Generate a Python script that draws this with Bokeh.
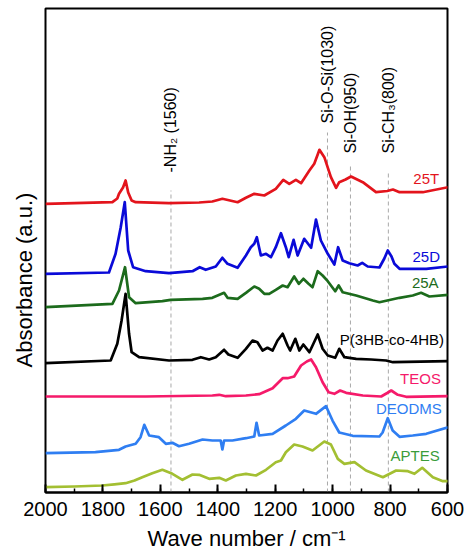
from math import pi
from bokeh.plotting import figure
from bokeh.models import Range1d, SingleIntervalTicker, Title
from bokeh.core.properties import value
from bokeh.embed import file_html
from bokeh.resources import INLINE

# ---------------- data (wavenumber in cm-1, stacked absorbance in a.u.) ----------------
wn_25T = [2000, 1767, 1750, 1744, 1730, 1721, 1712, 1700, 1686, 1570, 1465, 1419, 1384, 1331, 1302, 1273, 1238,
          1198, 1172, 1151, 1128, 1110, 1081, 1064, 1052, 1046, 1029, 1006, 988, 977, 955, 936, 895, 849,
          810, 790, 767, 686, 598]
abs_25T = [288.7, 290.3, 294, 298.7, 305, 312, 300, 292, 290.3, 289.3, 290, 291, 293.7, 290.3, 294.7, 298.7, 297,
           303.7, 312.7, 308.7, 312.7, 309.3, 322, 328.7, 338, 342.7, 335.3, 315.3, 304.7, 310.3, 313, 316, 310.3, 300.3,
           301.5, 303, 300.3, 300.3, 305.3]

wn_25D = [2000, 1779, 1756, 1738, 1724, 1712, 1695, 1651, 1570, 1488, 1463, 1442, 1407, 1384, 1366,
          1331, 1302, 1285, 1273, 1264, 1250, 1232, 1215, 1198, 1180, 1163, 1153, 1136, 1122, 1099,
          1075, 1058, 1041, 1017, 994, 981, 965, 942, 913, 897, 878, 837, 820, 808, 795, 785, 767, 674, 598]
abs_25D = [218.7, 220, 238.7, 265.3, 290.3, 242, 225.3, 221.3, 219.3, 221.3, 225.3, 222.7, 226, 234.7, 228.7,
           224.7, 237, 245.3, 248.7, 255.3, 237, 238.7, 235.3, 245.3, 259.3, 245.3, 235.3, 252.7, 237, 253.7,
           244.7, 273, 252, 238.7, 228, 245.3, 232, 229.3, 227, 229.7, 226, 225, 234, 242, 236, 228.7, 223.7, 223.7, 226]

wn_25A = [2000, 1767, 1744, 1723, 1709, 1686, 1593, 1564, 1453, 1419, 1378, 1366, 1331, 1302, 1273,
          1256, 1238, 1221, 1198, 1174, 1157, 1134, 1118, 1102, 1084, 1070, 1052, 1035, 1017, 991,
          979, 965, 918, 860, 837, 767, 721, 692, 663, 598]
abs_25A = [185.3, 188.7, 202, 225.3, 195.3, 189.3, 191.3, 192.7, 193.7, 194.7, 199.7, 194.7, 193.7, 199.7, 206,
           203.7, 198.7, 198.7, 202.7, 207, 205.3, 216, 208.7, 213.7, 208.7, 205.3, 221.3, 217, 211.3, 201.3,
           207, 200.3, 197, 192, 190.3, 194.7, 197, 199.7, 196, 197.7]

wn_P = [2000, 1773, 1750, 1735, 1721, 1709, 1700, 1674, 1570, 1488, 1459, 1430, 1407, 1378, 1363,
        1331, 1302, 1279, 1262, 1244, 1227, 1209, 1192, 1174, 1157, 1148, 1130, 1116, 1102, 1081,
        1052, 1035, 1017, 991, 977, 959, 918, 866, 814, 790, 598]
abs_P = [129.3, 132, 148.7, 172, 198.7, 158.7, 140.3, 135.3, 132, 132.7, 135.3, 133, 135.3, 142.7, 138,
         134.7, 143.7, 152, 150.3, 142, 144.7, 142, 152, 158.7, 147, 142, 153.7, 142, 148, 140.3,
         158, 143.7, 137, 134.7, 143.7, 135.3, 133.7, 133, 132, 130.3, 131.3]

wn_TEOS = [2000, 1651, 1419, 1395, 1372, 1302, 1256, 1209, 1174, 1157, 1134, 1110, 1090, 1075, 1058, 1035,
           1014, 994, 974, 953, 895, 831, 810, 796, 773, 744, 598]
abs_TEOS = [96, 96, 97, 97.7, 96.3, 97, 98.3, 104.3, 114.3, 114.3, 116, 127, 131, 133, 125.3, 110.3,
            100.3, 98.7, 102, 99.7, 97, 96, 99.5, 102, 97.7, 95.7, 96.3]

wn_DEODMS = [2000, 1826, 1744, 1721, 1686, 1669, 1656, 1639, 1605, 1581, 1558, 1535, 1500, 1453, 1419,
             1390, 1384, 1378, 1349, 1302, 1273, 1265, 1256, 1209, 1163, 1128, 1099, 1058, 1023, 1000,
             977, 930, 837, 826, 808, 791, 767, 721, 674, 598]
abs_DEODMS = [39.3, 40.3, 42.7, 46, 48.7, 55.3, 67.7, 57, 55.3, 48.7, 49.7, 46.3, 48.7, 53, 52,
              52, 43, 52, 52, 54.3, 56, 69.7, 57, 58.7, 67, 73.7, 82, 78.7, 86.3, 71.7,
              60, 56.7, 56, 60, 74.3, 62, 55.7, 57, 58.7, 65.3]

wn_APTES = [2000, 1900, 1802, 1760, 1721, 1690, 1663, 1628, 1593, 1558, 1523, 1488, 1465, 1430, 1395, 1372, 1337, 1302,
            1267, 1232, 1198, 1180, 1163, 1134, 1105, 1070, 1029, 1006, 982, 959, 924, 884, 860,
            825, 779, 738, 715, 688, 651, 616, 598]
abs_APTES = [5.3, 6, 7, 8.2, 9.3, 12, 15.3, 19.3, 22.7, 18.7, 12.7, 18, 17.7, 13.7, 14.7, 12, 17, 18.7,
             17, 22.7, 30.3, 32, 40.3, 48, 46, 42, 51, 48, 33.7, 28.7, 30.3, 22, 19.3,
             15.3, 22, 21.3, 18.7, 24.7, 15.3, 11.3, 11.3]

series_names = ["25T", "25D", "25A", "P(3HB-co-4HB)", "TEOS", "DEODMS", "APTES"]
series_wn = [wn_25T, wn_25D, wn_25A, wn_P, wn_TEOS, wn_DEODMS, wn_APTES]
series_abs = [abs_25T, abs_25D, abs_25A, abs_P, abs_TEOS, abs_DEODMS, abs_APTES]

band_labels = ["-NH\u2082 (1560)", "Si-O-Si(1030)", "Si-OH(950)", "Si-CH\u2083(800)"]
band_wn = [1563, 1018, 938, 806]

x_ticks_interval = 200

# ---------------- styling / positions ----------------
line_colors = ["#e3141c", "#0a0ad8", "#1c6b1c", "#000000", "#f51a6a", "#2f7ef2", "#a3bf32"]
label_colors = ["#e3141c", "#0a0ad8", "#1c6b1c", "#000000", "#f51a6a", "#2f7ef2", "#3a9c3a"]
label_x = [629, 626, 631, 612, 623, 620, 627]
label_y = [314, 236, 210.3, 152.7, 114.3, 84.3, 37]
band_text_bottom = [320, 369, 339, 339]
band_line_top = [302, 360, 327, 322]

FONT = "Liberation Sans"

p = figure(width=465, height=557, x_range=Range1d(2000, 600), y_range=Range1d(0, 484),
           output_backend="svg", toolbar_location=None,
           min_border_left=45, min_border_right=18, min_border_top=8, min_border_bottom=65)

p.grid.visible = False
p.outline_line_color = "black"
p.outline_line_width = 2
p.outline_line_alpha = 1
p.background_fill_color = "white"
p.border_fill_color = "white"

xa = p.xaxis[0]
xa.ticker = SingleIntervalTicker(interval=x_ticks_interval, num_minor_ticks=2)
xa.axis_line_width = 2
xa.axis_line_color = "black"
xa.major_tick_in = 8
xa.major_tick_out = 0
xa.minor_tick_in = 4
xa.minor_tick_out = 0
xa.major_tick_line_width = 2
xa.minor_tick_line_width = 1.5
xa.major_tick_line_color = "black"
xa.minor_tick_line_color = "black"
xa.major_label_text_font = FONT
xa.major_label_text_font_size = "20px"
xa.major_label_text_color = "black"
xa.major_label_standoff = 9
xa.axis_label = "Wave number / cm\u207b\u00b9"
xa.axis_label_text_font = FONT
xa.axis_label_text_font_size = "22px"
xa.axis_label_text_font_style = "normal"
xa.axis_label_text_color = "black"
xa.axis_label_standoff = 7

p.yaxis.visible = False

ytitle = Title(text="Absorbance (a.u.)", align="left", offset=125, vertical_align="middle",
               text_font=FONT, text_font_size="22px", text_font_style="normal", text_color="black",
               standoff=15)
p.add_layout(ytitle, "left")

# dashed band markers
p.segment(x0=band_wn, y0=[0] * len(band_wn), x1=band_wn, y1=band_line_top,
          line_color="#a8a8a8", line_width=1, line_dash="4 3")
p.text(x=band_wn, y=band_text_bottom, text=band_labels, angle=pi / 2,
       text_align="left", text_baseline="middle", text_font=value(FONT),
       text_font_size="16px", text_color="black")

for name, xs, ys, lc, tc, lx, ly in zip(series_names, series_wn, series_abs, line_colors,
                                        label_colors, label_x, label_y):
    p.line(xs, ys, line_color=lc, line_width=2.7, line_join="round")
    p.text(x=[lx], y=[ly], text=[name], text_align="right", text_baseline="middle",
           text_font=value(FONT), text_font_size="15px", text_color=tc)

open("out.html", "w").write(file_html(p, INLINE))
